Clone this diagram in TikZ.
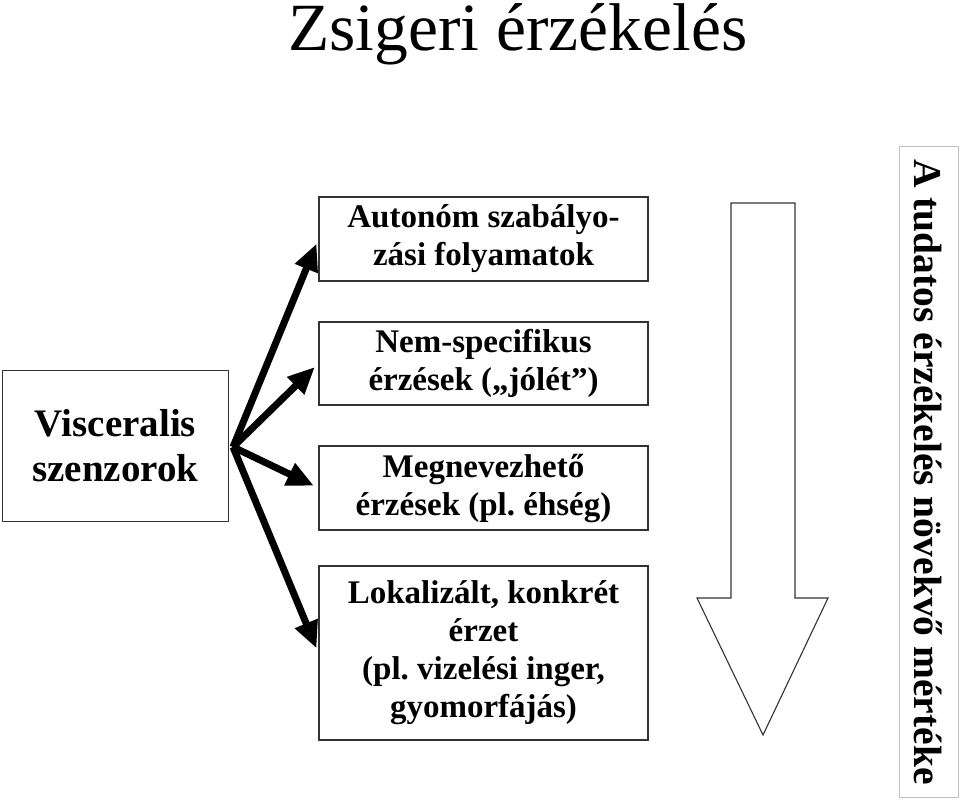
\documentclass[tikz,border=0pt]{standalone}
\usepackage{fontspec}
\setmainfont{Liberation Serif}
\usetikzlibrary{arrows.meta}
\frenchspacing

\begin{document}
\begin{tikzpicture}[x=1pt, y=-1pt,
  box/.style={draw=black!80, line width=1.1pt, inner sep=0pt, align=center,
    font=\fontsize{33}{38}\selectfont\bfseries},
  feed/.style={line width=7pt, -{Triangle[length=27pt,width=23pt]}, shorten >=5pt}]
\useasboundingbox (0,0) rectangle (960,801);
\node[anchor=base] (title) at (518,50) {\fontsize{67.5}{72}\selectfont Zsigeri érzékelés};
\node[box, minimum width=226pt, minimum height=151pt,
  font=\fontsize{39}{45}\selectfont\bfseries] (sens) at (115.5,446) {Visceralis\\szenzorok};
\coordinate (fork) at (233,447);
\node[box, minimum width=329pt, minimum height=84pt] (auto) at (483.5,239)
  {Autonóm szabályo-\\zási folyamatok};
\node[box, minimum width=329pt, minimum height=83pt] (nonspec) at (483.5,363.5)
  {Nem-specifikus\\érzések („jólét”)};
\node[box, minimum width=329pt, minimum height=84pt] (named) at (483.5,488)
  {Megnevezhető\\érzések (pl. éhség)};
\node[box, minimum width=329pt, minimum height=174pt] (local) at (483.5,653)
  {Lokalizált, konkrét\\érzet\\(pl. vizelési inger,\\gyomorfájás)};
\draw[line width=1.1pt, black!80] (731,203) -- (795,203) -- (795,598) -- (828,598)
  -- (763,735) -- (697,598) -- (731,598) -- cycle;
\node[draw=black!25, line width=1pt, minimum width=59pt, minimum height=651pt,
  inner sep=0pt] (scale) at (928.5,472) {};
\node[rotate=-90, font=\fontsize{39.5}{44}\selectfont\bfseries] (scaletext) at (scale.center)
  {A tudatos érzékelés növekvő mértéke};
\foreach \t in {auto,nonspec,named,local}
  \draw[feed] (fork) -- (\t.west);
\end{tikzpicture}
\end{document}
